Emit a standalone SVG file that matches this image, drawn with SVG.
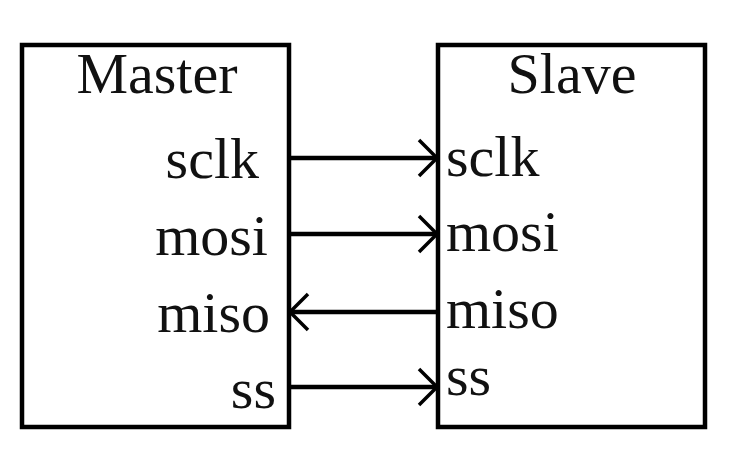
<svg xmlns="http://www.w3.org/2000/svg" width="741" height="460" viewBox="0 0 741 460">
<style>
.box{fill:#fff;stroke:#000;stroke-width:4.5}
.t{font-family:"Liberation Serif","Times New Roman",serif;font-size:58px;fill:#111}
.c{stroke:#000;stroke-width:4.5;fill:none}
</style>
<defs>
<marker id="arr" markerUnits="userSpaceOnUse" markerWidth="24" markerHeight="40" refX="20" refY="20" orient="auto" viewBox="0 0 24 40">
<path d="M2,2 L20,20 L2,38" stroke="#000" stroke-width="3.5" fill="none"/>
</marker>
</defs>
<rect width="741" height="460" fill="#fff"/>
<g id="master">
<rect class="box" x="22" y="45" width="267" height="382"/>
<text class="t" x="157" y="93" text-anchor="middle">Master</text>
<text class="t" x="259" y="178" text-anchor="end">sclk</text>
<text class="t" x="268" y="255" text-anchor="end">mosi</text>
<text class="t" x="270" y="332" text-anchor="end">miso</text>
<text class="t" x="276" y="408" text-anchor="end">ss</text>
</g>
<g id="slave">
<rect class="box" x="438" y="45" width="267" height="382"/>
<text class="t" x="572" y="93" text-anchor="middle">Slave</text>
<text class="t" x="446" y="176">sclk</text>
<text class="t" x="446" y="251">mosi</text>
<text class="t" x="446" y="328">miso</text>
<text class="t" x="446" y="395">ss</text>
</g>
<g id="connectors">
<line class="c" x1="289" y1="158" x2="437" y2="158" marker-end="url(#arr)"/>
<line class="c" x1="289" y1="234" x2="437" y2="234" marker-end="url(#arr)"/>
<line class="c" x1="438" y1="312" x2="290" y2="312" marker-end="url(#arr)"/>
<line class="c" x1="289" y1="387" x2="437" y2="387" marker-end="url(#arr)"/>
</g>
</svg>
